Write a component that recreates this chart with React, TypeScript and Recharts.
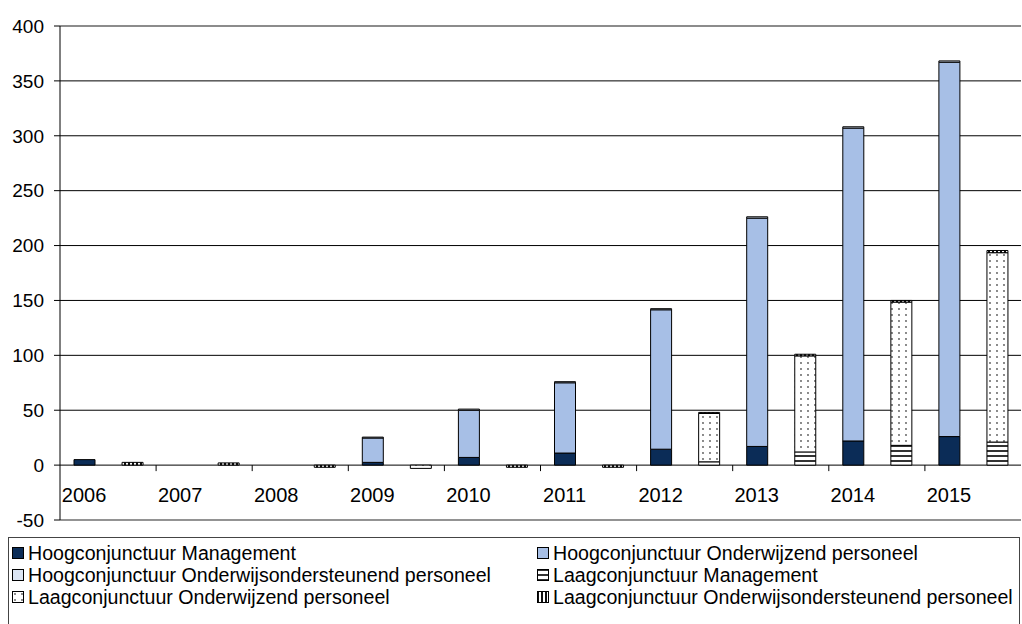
import { BarChart, Bar, XAxis, YAxis, CartesianGrid, ReferenceLine } from 'recharts';

// jaren en waarden per reeks
const years = ['2006', '2007', '2008', '2009', '2010', '2011', '2012', '2013', '2014', '2015'];

const hoogManagement = [5, 0, 0, 2.5, 7, 11, 14.5, 17, 22, 26];
const hoogOnderwijzend = [0, 0, 0, 22.2, 43, 64, 127, 208, 285, 341];
const hoogOndersteunend = [0, 0, 0, 0.8, 1, 1, 1, 1.2, 1.2, 1.2];

const laagManagement = [0, 0, 0, 0, 0, 0, 3, 12, 18, 21];
const laagOnderwijzend = [0, 0, 0, -3, 0, 0, 44, 87.5, 130.5, 172.5];
const laagOndersteunend = [2.5, 2, -2, 0, -2, -2, 1, 1.5, 1.5, 2];

const yTicks = [-50, 0, 50, 100, 150, 200, 250, 300, 350, 400];

const FONT = '"Liberation Sans", Arial, sans-serif';
const W = 1022;
const H = 530;
const X_AXIS_H = 10;
const MARGIN = { top: 26, right: 1, bottom: 0, left: 0 };
const Y_AXIS_W = 60;
const Y_MIN = -50;
const Y_MAX = 400;
const plotH = H - MARGIN.top - MARGIN.bottom - X_AXIS_H;
const zeroY = MARGIN.top + (Y_MAX / (Y_MAX - Y_MIN)) * plotH;
const band = (W - MARGIN.left - MARGIN.right - Y_AXIS_W) / (years.length * 2);

const rows = years.flatMap((y, i) => [
  {
    key: `${y}-h`,
    label: y,
    hm: hoogManagement[i],
    ho: hoogOnderwijzend[i],
    hs: hoogOndersteunend[i],
    lm: 0,
    lo: 0,
    ls: 0,
  },
  {
    key: `${y}-l`,
    label: '',
    hm: 0,
    ho: 0,
    hs: 0,
    lm: laagManagement[i],
    lo: laagOnderwijzend[i],
    ls: laagOndersteunend[i],
  },
]);

const series = [
  { key: 'hm', name: 'Hoogconjunctuur Management', fill: '#0b2c57' },
  { key: 'ho', name: 'Hoogconjunctuur Onderwijzend personeel', fill: '#a7bfe6' },
  { key: 'hs', name: 'Hoogconjunctuur Onderwijsondersteunend personeel', fill: '#dbe5f4' },
  { key: 'lm', name: 'Laagconjunctuur Management', fill: 'url(#patStripesH)' },
  { key: 'lo', name: 'Laagconjunctuur Onderwijzend personeel', fill: 'url(#patDots)' },
  { key: 'ls', name: 'Laagconjunctuur Onderwijsondersteunend personeel', fill: 'url(#patStripesV)' },
];

function Patterns({ suffix = '' }: { suffix?: string }) {
  return (
    <defs>
      <pattern id={`patStripesH${suffix}`} width="6" height="5" patternUnits="userSpaceOnUse">
        <rect width="6" height="5" fill="#fff" />
        <rect width="6" height="2" fill="#333" />
      </pattern>
      <pattern id={`patDots${suffix}`} width="7" height="6" patternUnits="userSpaceOnUse">
        <rect width="7" height="6" fill="#fff" />
        <circle cx="3" cy="3" r="0.9" fill="#555" />
      </pattern>
      <pattern id={`patStripesV${suffix}`} width="4" height="4" patternUnits="userSpaceOnUse">
        <rect width="4" height="4" fill="#fff" />
        <rect width="2" height="4" fill="#111" />
      </pattern>
    </defs>
  );
}

function renderYearTick(props: any) {
  const { x, payload, index } = props;
  const row = rows.find((r) => r.key === payload.value);
  const isHoog = !!row && row.label !== '';
  return (
    <g key={`t-${payload.value}`}>
      {isHoog && index > 0 && (
        <line x1={x - band / 2} x2={x - band / 2} y1={zeroY} y2={zeroY + 6} stroke="#000" />
      )}
      {isHoog && (
        <text x={x} y={zeroY + 37} textAnchor="middle" fontSize={20} fill="#000" fontFamily={FONT}>
          {row!.label}
        </text>
      )}
    </g>
  );
}

function LegendMarker({ fill, id }: { fill: string; id: string }) {
  return (
    <svg width={12} height={12} style={{ display: 'block', marginRight: 4 }}>
      <Patterns suffix={`-lg-${id}`} />
      <rect
        x={0.5}
        y={0.5}
        width={11}
        height={11}
        fill={fill.startsWith('url') ? fill.replace(')', `-lg-${id})`) : fill}
        stroke="#000"
      />
    </svg>
  );
}

export default function App() {
  return (
    <div
      style={{
        position: 'absolute',
        left: 0,
        top: 0,
        width: 1022,
        height: 624,
        background: '#fff',
        fontFamily: FONT,
        overflow: 'hidden',
      }}
    >
      <BarChart width={W} height={H} data={rows} margin={MARGIN} stackOffset="sign" barSize={21}>
        <Patterns />
        <CartesianGrid vertical={false} stroke="#000" />
        <XAxis
          dataKey="key"
          height={X_AXIS_H}
          interval={0}
          axisLine={{ stroke: '#999' }}
          tickLine={false}
          tick={renderYearTick}
        />
        <YAxis
          type="number"
          domain={[Y_MIN, Y_MAX]}
          ticks={yTicks}
          interval={0}
          width={Y_AXIS_W}
          axisLine={{ stroke: '#000' }}
          tickLine={{ stroke: '#000' }}
          tickSize={6}
          tickMargin={10}
          tick={{ fill: '#000', fontSize: 19, fontFamily: FONT }}
        />
        <ReferenceLine y={400} stroke="#999" />
        <ReferenceLine y={-50} stroke="#999" />
        {series.map((s) => (
          <Bar
            key={s.key}
            dataKey={s.key}
            name={s.name}
            stackId="a"
            fill={s.fill}
            stroke="#000"
            strokeWidth={1}
            isAnimationActive={false}
          />
        ))}
      </BarChart>
      <div
        style={{
          position: 'absolute',
          left: 8,
          top: 537,
          width: 1012,
          height: 100,
          border: '1px solid #444',
          boxSizing: 'border-box',
        }}
      >
        {series.map((s, i) => {
          const col = i % 2;
          const row = Math.floor(i / 2);
          return (
            <div
              key={s.key}
              style={{
                position: 'absolute',
                left: col === 0 ? 3 : 528,
                top: 4 + row * 22,
                height: 22,
                display: 'flex',
                alignItems: 'center',
                fontSize: 19.6,
                color: '#000',
                whiteSpace: 'nowrap',
              }}
            >
              <LegendMarker fill={s.fill} id={s.key} />
              <span>{s.name}</span>
            </div>
          );
        })}
      </div>
    </div>
  );
}
